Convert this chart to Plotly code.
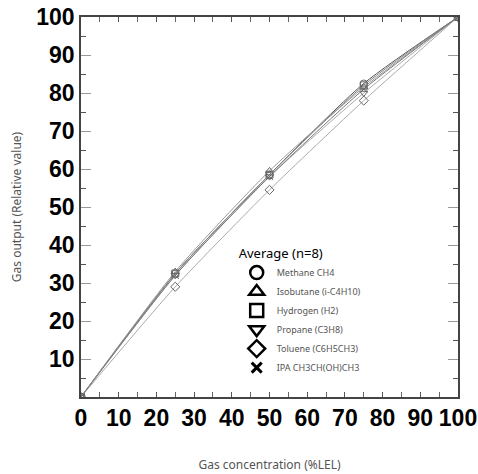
import plotly.graph_objects as go

conc = [0, 25, 50, 75, 100]
names = ["Methane CH4", "Isobutane (i-C4H10)", "Hydrogen (H2)", "Propane (C3H8)",
         "Toluene (C6H5CH3)", "IPA CH3CH(OH)CH3"]
methane = [0, 32.5, 58.5, 82.5, 100]
isobutane = [0, 33.0, 59.5, 81.5, 100]
hydrogen = [0, 32.5, 58.5, 82.0, 100]
propane = [0, 32.0, 58.0, 80.0, 100]
toluene = [0, 29.0, 54.5, 78.0, 100]
ipa = [0, 32.0, 58.0, 81.0, 100]
series = [methane, isobutane, hydrogen, propane, toluene, ipa]
xticks = [0, 10, 20, 30, 40, 50, 60, 70, 80, 90, 100]
yticks = [10, 20, 30, 40, 50, 60, 70, 80, 90, 100]

symbols = ["circle-open", "triangle-up-open", "square-open", "triangle-down-open",
           "diamond-open", "x-thin-open"]
legend_symbols = ["circle-open", "triangle-up-open", "square-open", "triangle-down-open",
                  "diamond-open", "x-thin-open"]
legend_sizes = [13, 13, 13, 13, 13, 10]
legend_widths = [2.5, 2.5, 2.5, 2.5, 2.5, 3]
line_colors = ["#555555", "#999999", "#888888", "#aaaaaa", "#aaaaaa", "#777777"]

fig = go.Figure()
for vals, sym, col in zip(series, symbols, line_colors):
    fig.add_trace(go.Scatter(
        x=conc, y=vals, mode="lines+markers", showlegend=False,
        line=dict(color=col, width=1, shape="spline", smoothing=0.6),
        marker=dict(symbol=sym, size=7, color="#666666", line=dict(width=1, color="#666666")),
    ))
for name, sym, sz, lw in zip(names, legend_symbols, legend_sizes, legend_widths):
    fig.add_trace(go.Scatter(
        x=[None], y=[None], mode="markers", name=name,
        marker=dict(symbol=sym, size=sz, color="black", line=dict(width=lw, color="black")),
    ))

tickfont = dict(family="Liberation Sans", size=23, color="black", weight="bold")
fig.update_xaxes(range=[0, 100], tickvals=xticks, ticktext=[str(v) for v in xticks],
                 showgrid=False, zeroline=False, showline=True, linecolor="#444444", linewidth=1.5,
                 mirror="ticks", ticks="inside", ticklen=5, tickcolor="#555555", tickwidth=1,
                 minor=dict(ticks="inside", ticklen=5, tickcolor="#666666", dtick=5, tickwidth=1),
                 tickfont=tickfont, automargin=False, ticklabeloverflow="allow",
                 title=dict(text="Gas concentration (%LEL)", standoff=30,
                            font=dict(family="Noto Sans", size=12, color="#555555")))
fig.update_yaxes(range=[0, 100], tickvals=yticks, ticktext=[str(v) for v in yticks],
                 showgrid=False, zeroline=False, showline=True, linecolor="#444444", linewidth=1.5,
                 mirror="ticks", ticks="inside", ticklen=10, tickcolor="#999999", tickwidth=1,
                 minor=dict(ticks="inside", ticklen=5, tickcolor="#555555", dtick=5, tickwidth=1),
                 tickfont=tickfont, automargin=False, ticklabeloverflow="allow",
                 title=dict(text="Gas output (Relative value)", standoff=12,
                            font=dict(family="Noto Sans", size=12, color="#555555")))
fig.update_layout(
    width=478, height=474, margin=dict(l=81, r=20, t=17, b=77),
    plot_bgcolor="white", paper_bgcolor="white",
    legend=dict(x=0.413, y=0.41, xanchor="left", yanchor="top", bgcolor="rgba(0,0,0,0)",
                title=dict(text="Average (n=8)", font=dict(family="Noto Sans", size=13, color="black")),
                font=dict(family="Noto Sans", size=9, color="#555555"),
                itemwidth=30, tracegroupgap=0),
)
fig.write_html("out.html", config={"displayModeBar": False},
               post_script="document.body.style.margin='0px';document.body.style.overflow='hidden';")
